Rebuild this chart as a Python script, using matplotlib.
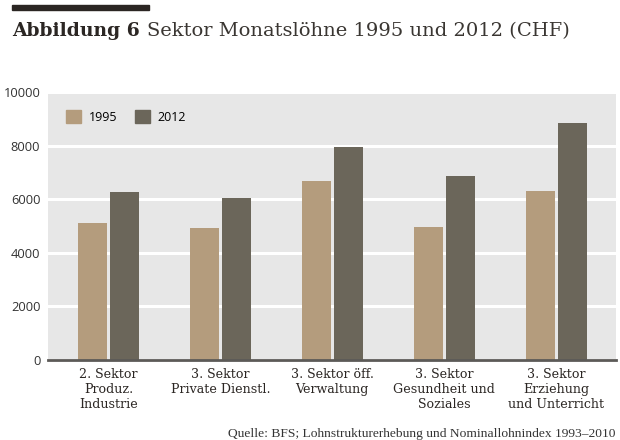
import numpy as np
import matplotlib.pyplot as plt
from matplotlib.patches import Patch

categories = ["2. Sektor\nProduz.\nIndustrie",
              "3. Sektor\nPrivate Dienstl.",
              "3. Sektor öff.\nVerwaltung",
              "3. Sektor\nGesundheit und\nSoziales",
              "3. Sektor\nErziehung\nund Unterricht"]
wages_1995 = [5100, 4930, 6670, 4970, 6320]
wages_2012 = [6250, 6040, 7930, 6880, 8830]
years = ["1995", "2012"]
yticks = [0, 2000, 4000, 6000, 8000, 10000]

c1995 = "#b49c7d"
c2012 = "#6b665a"
bg = "#e7e7e7"
dark = "#2b2623"

fig = plt.figure(figsize=(6.2, 4.4), dpi=100)
ax = fig.add_axes([48/620, 80/440, 568/620, 268/440])
ax.set_facecolor(bg)

x = np.arange(len(categories))
w = 0.26
off = 0.143
ax.bar(x - off, wages_1995, w, color=c1995, zorder=3)
ax.bar(x + off, wages_2012, w, color=c2012, zorder=3)

ax.set_xlim(-0.54, 4.535)
ax.set_ylim(0, 10000)
ax.set_yticks(yticks)
ax.yaxis.grid(True, color="white", linewidth=2.2, zorder=1)
ax.set_axisbelow(True)
for s in ["top", "right", "left"]:
    ax.spines[s].set_visible(False)
ax.spines["bottom"].set_color("#5c5a57")
ax.spines["bottom"].set_linewidth(2)
ax.spines["bottom"].set_zorder(4)
ax.tick_params(axis="y", length=0, pad=5.5, labelsize=9.3, labelcolor="#333333")
ax.tick_params(axis="x", length=0, pad=6)
for lab in ax.get_yticklabels():
    lab.set_family("Open Sans")

ax.set_xticks(x)
ax.set_xticklabels(categories, family="DejaVu Serif", fontsize=9.1,
                   color=dark, linespacing=1.2)

handles = [Patch(color=c1995), Patch(color=c2012)]
ax.legend(handles, years, loc="upper left", bbox_to_anchor=(0.012, 0.975),
          ncol=2, frameon=False, handlelength=1.2, handleheight=1.2,
          columnspacing=1.4, handletextpad=0.6,
          prop={"family": "Open Sans", "size": 9})

# title bar and title
fig.add_artist(plt.Rectangle((12/620, 1 - 10/440), 137/620, 5/440,
                             transform=fig.transFigure, color=dark))
t1 = fig.text(12/620, 1 - 36/440, "Abbildung 6", family="DejaVu Serif",
              fontweight="bold", fontsize=13.5, color=dark)
fig.canvas.draw()
bb = t1.get_window_extent()
x2 = (bb.x1 + 7) / fig.bbox.width
fig.text(x2, 1 - 36/440, "Sektor Monatslöhne 1995 und 2012 (CHF)",
         family="DejaVu Serif", fontsize=14, color="#3a3632")

fig.text(616/620, 1 - 437/440,
         "Quelle: BFS; Lohnstrukturerhebung und Nominallohnindex 1993–2010",
         family="Liberation Serif", fontsize=9.7, color="#333333", ha="right")

fig.savefig("out.png", dpi=100, facecolor="white")
